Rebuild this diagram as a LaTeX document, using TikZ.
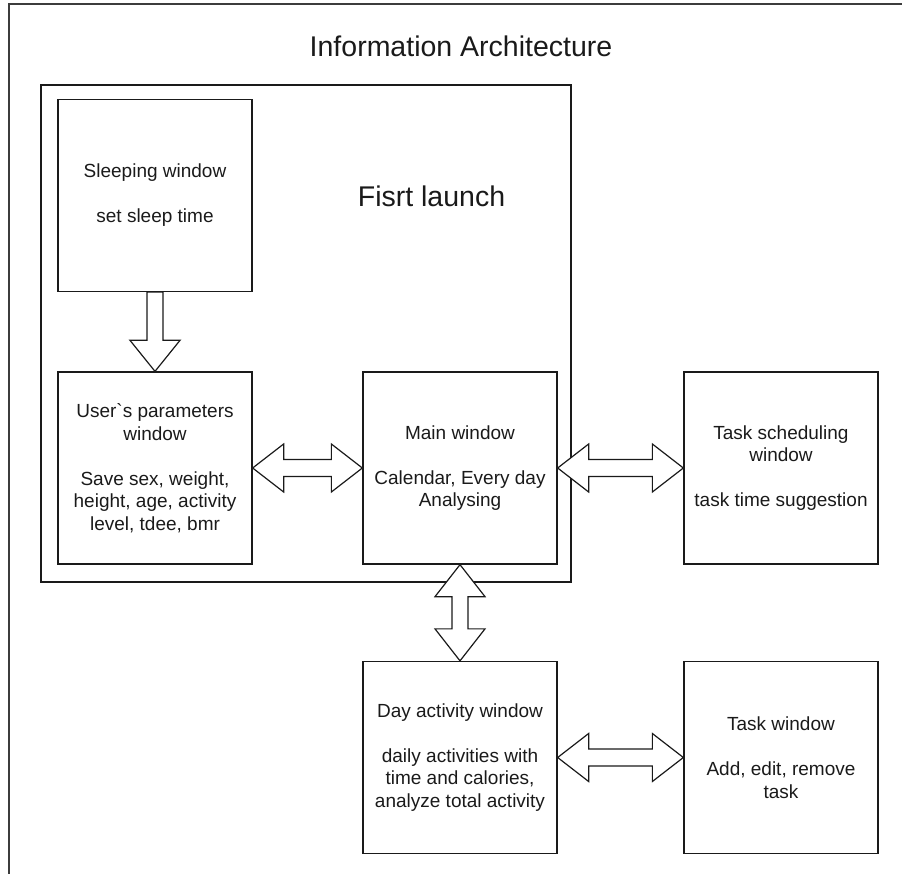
\documentclass[tikz,border=0pt]{standalone}
\usepackage{fontspec}
\setmainfont{Liberation Sans}
\usetikzlibrary{calc}
\definecolor{ink}{HTML}{1A1A1A}
\begin{document}
\begin{tikzpicture}[x=1pt,y=-1pt,
  win/.style={draw=ink, line width=1.3pt, minimum width=194pt, minimum height=192pt,
    inner sep=0pt, align=center, text=ink, font=\fontsize{19}{22.5}\selectfont},
  flexarrow/.style={draw=ink, line width=1.2pt, fill=white, line join=miter},
  heading/.style={font=\fontsize{28.5}{34}\selectfont, text=ink, anchor=base, inner sep=0pt},
  group/.style={draw=ink, line width=1.3pt}]
\useasboundingbox (0,0) rectangle (902,874);

% page frame (runs on past the right and bottom edges)
\draw[line width=1.5pt, draw=ink!85] (9,874) -- (9,4) -- (902,4);

\node[heading] (title) at (461,57) {Information Architecture};

% first-launch group
\draw[group] (41,85) rectangle (571,582);
\node[heading] (first) at (431.5,207) {Fisrt launch};

% windows
\node[win] (sleep) at (155,195.5) {Sleeping window\\[22.5pt]set sleep time};
\node[win] (user) at (155,468) {User\textasciigrave s parameters\\window\\[22.5pt]Save sex, weight,\\height, age, activity\\level, tdee, bmr};
\node[win] (main) at (460,468) {Main window\\[22.5pt]Calendar, Every day\\Analysing};
\node[win] (sched) at (781,468) {Task scheduling\\window\\[22.5pt]task time suggestion};
\node[win] (day) at (460,757.5) {Day activity window\\[22.5pt]daily activities with\\time and calories,\\analyze total activity};
\node[win] (task) at (781,757.5) {Task window\\[22.5pt]Add, edit, remove\\task};

% single block arrow: sleep -> user
\draw[flexarrow] ($(sleep.south)+(-8,0)$) -- ($(user.north)+(-8,-31)$) -- ++(-17,0)
  -- (user.north) -- ++(25,-31) -- ++(-17,0) -- ($(sleep.south)+(8,0)$) -- cycle;

% double block arrows, horizontal
\draw[flexarrow] (user.east) -- ++(31,-24) -- ++(0,15.5) -- ($(main.west)+(-31,-8.5)$)
  -- ++(0,-15.5) -- (main.west) -- ++(-31,24) -- ++(0,-15.5) -- ($(user.east)+(31,8.5)$)
  -- ++(0,15.5) -- cycle;
\draw[flexarrow] (main.east) -- ++(31,-24) -- ++(0,15.5) -- ($(sched.west)+(-31,-8.5)$)
  -- ++(0,-15.5) -- (sched.west) -- ++(-31,24) -- ++(0,-15.5) -- ($(main.east)+(31,8.5)$)
  -- ++(0,15.5) -- cycle;
\draw[flexarrow] (day.east) -- ++(31,-24) -- ++(0,15.5) -- ($(task.west)+(-31,-8.5)$)
  -- ++(0,-15.5) -- (task.west) -- ++(-31,24) -- ++(0,-15.5) -- ($(day.east)+(31,8.5)$)
  -- ++(0,15.5) -- cycle;

% double block arrow, vertical
\draw[flexarrow] (main.south) -- ++(25,32) -- ++(-17,0) -- ($(day.north)+(8,-32)$)
  -- ++(17,0) -- (day.north) -- ++(-25,-32) -- ++(17,0) -- ($(main.south)+(-8,32)$)
  -- ++(-17,0) -- cycle;
\end{tikzpicture}
\end{document}
